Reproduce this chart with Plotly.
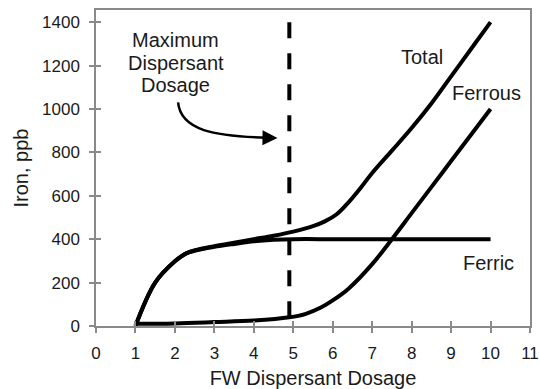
import plotly.graph_objects as go

# Data
total_x = [1, 1.5, 2.0, 2.3, 2.7, 3.0, 3.5, 4.0, 4.5, 5.0, 5.5, 5.8, 6.1, 6.4, 6.7, 7.0, 7.5, 8.0, 8.5, 9.0, 9.5, 10.0]
total_y = [0, 200, 298, 336, 357, 368, 384, 400, 416, 435, 460, 482, 515, 570, 635, 705, 808, 912, 1025, 1150, 1275, 1400]

ferric_x = [1, 1.5, 2.0, 2.3, 2.7, 3.0, 3.5, 4.0, 4.5, 5.0, 6.0, 7.0, 8.0, 9.0, 10.0]
ferric_y = [0, 200, 298, 336, 355, 365, 378, 390, 397, 400, 400, 400, 400, 400, 400]

ferrous_x = [1, 2, 3, 4, 4.9, 5.3, 5.7, 6.0, 6.4, 7.0, 7.5, 8.0, 8.5, 9.0, 9.5, 10.0]
ferrous_y = [10, 12, 18, 25, 40, 55, 85, 118, 172, 285, 400, 520, 640, 760, 880, 1000]

max_dosage_x = [4.9, 4.9]
max_dosage_y = [1400, 0]

x_ticks = list(range(0, 12))
y_ticks = [0, 200, 400, 600, 800, 1000, 1200, 1400]

FONT = "Liberation Sans, Arial, sans-serif"
AX = "#8a8a8a"
TXT = "#1a1a1a"

fig = go.Figure()
line = dict(color="black", width=4, shape="spline", smoothing=1.0)
fig.add_trace(go.Scatter(x=ferric_x, y=ferric_y, mode="lines", line=line, name="Ferric"))
fig.add_trace(go.Scatter(x=total_x, y=total_y, mode="lines", line=line, name="Total"))
fig.add_trace(go.Scatter(x=ferrous_x, y=ferrous_y, mode="lines", line=line, name="Ferrous"))
fig.add_trace(go.Scatter(x=max_dosage_x, y=max_dosage_y, mode="lines",
                         line=dict(color="black", width=4, dash="16px,15px"), name="Max"))

# overlay axes for inward half of crossing ticks
fig.add_trace(go.Scatter(x=[None], y=[None], xaxis="x2", yaxis="y2", showlegend=False))

XR = [0, 11]
YR = [0, 1456]

fig.update_layout(
    width=540, height=389,
    margin=dict(l=96, r=10, t=10, b=63),
    paper_bgcolor="white", plot_bgcolor="white",
    showlegend=False,
    font=dict(family=FONT, color=TXT),
    xaxis=dict(range=XR, tickvals=x_ticks, ticks="outside", ticklen=5, tickcolor=AX, tickwidth=1.5,
               showline=True, linecolor=AX, linewidth=1.5, mirror=True, showgrid=False, zeroline=False,
               tickfont=dict(size=17, family=FONT, color=TXT), ticklabelstandoff=6, automargin=False,
               title=dict(text="FW Dispersant Dosage", font=dict(size=20, family=FONT, color=TXT), standoff=14)),
    yaxis=dict(range=YR, tickvals=y_ticks, ticks="outside", ticklen=5, tickcolor=AX, tickwidth=1.5,
               showline=True, linecolor=AX, linewidth=1.5, mirror=True, showgrid=False, zeroline=False,
               tickfont=dict(size=17, family=FONT, color=TXT), ticklabelstandoff=6, automargin=False,
               title=dict(text="Iron, ppb", font=dict(size=20, family=FONT, color=TXT), standoff=8)),
    xaxis2=dict(range=XR, tickvals=x_ticks, ticks="inside", ticklen=5, tickcolor=AX, tickwidth=1.5,
                showticklabels=False, showline=False, showgrid=False, zeroline=False, overlaying="x", anchor="y"),
    yaxis2=dict(range=YR, tickvals=y_ticks, ticks="inside", ticklen=5, tickcolor=AX, tickwidth=1.5,
                showticklabels=False, showline=False, showgrid=False, zeroline=False, overlaying="y", anchor="x"),
)

ann_font = dict(size=20, family=FONT, color=TXT)
for txt, x, y in [("Total", 8.25, 1240), ("Ferrous", 9.9, 1075), ("Ferric", 9.95, 290),
                  ("Maximum", 2.02, 1318), ("Dispersant", 2.02, 1212), ("Dosage", 2.02, 1110)]:
    fig.add_annotation(x=x, y=y, text=txt, showarrow=False, font=ann_font, xref="x", yref="y")

# curved arrow
fig.add_shape(type="path", xref="x", yref="y",
              path="M 2.08 1030 C 2.15 900, 3.0 875, 4.35 867",
              line=dict(color="black", width=2.5))
fig.add_annotation(x=4.6, y=866, ax=4.2, ay=867, axref="x", ayref="y", xref="x", yref="y",
                   text="", showarrow=True, arrowhead=2, arrowsize=1.2, arrowwidth=2.5, arrowcolor="black")

fig.write_html("out.html")
